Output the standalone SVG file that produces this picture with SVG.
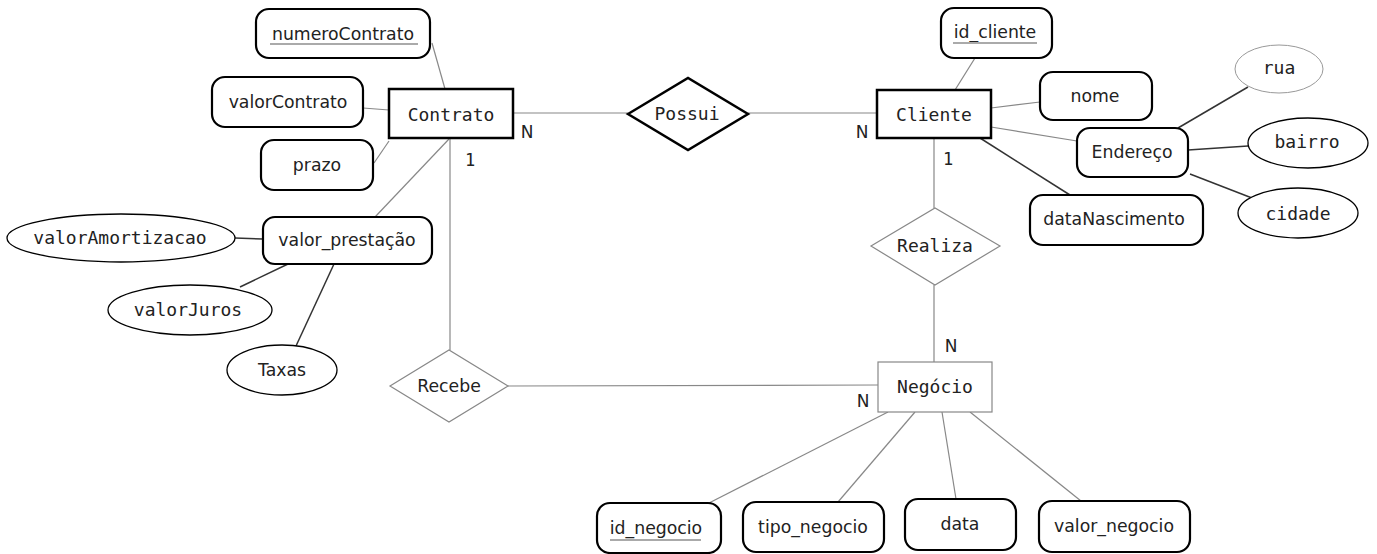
<svg xmlns="http://www.w3.org/2000/svg" width="1377" height="554" viewBox="0 0 1377 554">
<style>
.bg{fill:#fff}
.ent{fill:#fff;stroke:#000;stroke-width:2.5}
.weak{fill:#fff;stroke:#888;stroke-width:1.2}
.attr{fill:#fff;stroke:#000;stroke-width:2.2}
.ell{fill:#fff;stroke:#000;stroke-width:1.3}
.ellg{fill:#fff;stroke:#999;stroke-width:1}
.ln{stroke:#888;stroke-width:1.2;fill:none}
.lnd{stroke:#333;stroke-width:1.5;fill:none}
.mono{font-family:"DejaVu Sans Mono","Liberation Mono",monospace;font-size:18px;fill:#222;text-anchor:middle}
.sans{font-family:"DejaVu Sans","Liberation Sans",sans-serif;font-size:17.3px;fill:#222;text-anchor:middle}
.card{font-family:"DejaVu Sans","Liberation Sans",sans-serif;font-size:17px;fill:#222;text-anchor:middle}
.ul{stroke:#aaa;stroke-width:2}
</style>
<rect class="bg" x="0" y="0" width="1377" height="554"/>
<g id="connectors">
<line class="ln" x1="432" y1="43" x2="445" y2="89"/>
<line class="ln" x1="363" y1="108" x2="389" y2="110"/>
<line class="ln" x1="374" y1="163" x2="389" y2="141"/>
<line class="ln" x1="449" y1="139" x2="375" y2="217"/>
<line class="ln" x1="450" y1="139" x2="450" y2="350"/>
<line class="ln" x1="513" y1="113" x2="628" y2="113"/>
<line class="ln" x1="748" y1="113" x2="877" y2="113"/>
<line class="ln" x1="975" y1="58" x2="955" y2="90"/>
<line class="ln" x1="991" y1="108" x2="1040" y2="102"/>
<line class="ln" x1="991" y1="127" x2="1077" y2="141"/>
<line class="lnd" x1="980" y1="138" x2="1070" y2="195"/>
<line class="ln" x1="934" y1="138" x2="934" y2="208"/>
<line class="ln" x1="934" y1="285" x2="934" y2="362"/>
<line class="ln" x1="508" y1="386" x2="878" y2="385"/>
<line class="lnd" x1="1178" y1="128" x2="1248" y2="87"/>
<line class="lnd" x1="1188" y1="150" x2="1248" y2="146"/>
<line class="lnd" x1="1190" y1="174" x2="1252" y2="198"/>
<line class="lnd" x1="235" y1="238" x2="263" y2="239"/>
<line class="lnd" x1="240" y1="287" x2="288" y2="264"/>
<line class="lnd" x1="296" y1="346" x2="334" y2="264"/>
<line class="ln" x1="888" y1="412" x2="709" y2="503"/>
<line class="ln" x1="915" y1="412" x2="838" y2="502"/>
<line class="ln" x1="942" y1="412" x2="956" y2="499"/>
<line class="ln" x1="970" y1="412" x2="1081" y2="501"/>
<text class="card" x="527" y="138">N</text>
<text class="card" x="862" y="138">N</text>
<text class="mono" x="470" y="166" style="font-size:17px">1</text>
<text class="mono" x="948" y="165" style="font-size:17px">1</text>
<text class="card" x="951" y="352">N</text>
<text class="card" x="863" y="407">N</text>
</g>
<g id="contrato"><rect class="ent" x="389" y="89" width="124" height="49"/><text class="mono" x="451" y="121">Contrato</text></g>
<g id="possui"><polygon class="ent" points="628,114 688,78 748,114 688,150"/><text class="mono" x="687" y="120">Possui</text></g>
<g id="cliente"><rect class="ent" x="877" y="90" width="114" height="48"/><text class="mono" x="934" y="121">Cliente</text></g>
<g id="negocio"><rect class="weak" x="878" y="362" width="114" height="50"/><text class="mono" x="935" y="393">Negócio</text></g>
<g id="realiza"><polygon class="weak" points="871,246 935,208 1000,246 935,285"/><text class="mono" x="935" y="252">Realiza</text></g>
<g id="recebe"><polygon class="weak" points="390,386 449,350 508,386 449,422"/><text class="sans" x="449" y="392">Recebe</text></g>
<g id="numeroContrato"><rect class="attr" x="256" y="9" width="174" height="49" rx="13"/><text class="sans" x="343" y="40">numeroContrato</text><line class="ul" x1="270" y1="44" x2="418" y2="44"/></g>
<g id="valorContrato"><rect class="attr" x="212" y="77" width="151" height="50" rx="13"/><text class="sans" x="288" y="108">valorContrato</text></g>
<g id="prazo"><rect class="attr" x="261" y="140" width="112" height="50" rx="13"/><text class="sans" x="317" y="171">prazo</text></g>
<g id="valor_prestacao"><rect class="attr" x="263" y="217" width="169" height="47" rx="12"/><text class="sans" x="347" y="246">valor_prestação</text></g>
<g id="valorAmortizacao"><ellipse class="ell" cx="121" cy="238" rx="114" ry="24"/><text class="mono" x="120" y="244">valorAmortizacao</text></g>
<g id="valorJuros"><ellipse class="ell" cx="190" cy="310" rx="82" ry="25"/><text class="mono" x="188" y="316">valorJuros</text></g>
<g id="taxas"><ellipse class="ell" cx="282" cy="370" rx="55" ry="25"/><text class="sans" x="282" y="376">Taxas</text></g>
<g id="id_cliente"><rect class="attr" x="941" y="8" width="111" height="50" rx="13"/><text class="sans" x="995" y="38">id_cliente</text><line class="ul" x1="953" y1="43" x2="1037" y2="43"/></g>
<g id="nome"><rect class="attr" x="1040" y="72" width="112" height="48" rx="13"/><text class="sans" x="1095" y="102">nome</text></g>
<g id="endereco"><rect class="attr" x="1077" y="128" width="111" height="49" rx="13"/><text class="sans" x="1132" y="158">Endereço</text></g>
<g id="dataNascimento"><rect class="attr" x="1030" y="195" width="173" height="50" rx="13"/><text class="sans" x="1114" y="225">dataNascimento</text></g>
<g id="rua"><ellipse class="ellg" cx="1279" cy="69" rx="44" ry="24"/><text class="mono" x="1279" y="74">rua</text></g>
<g id="bairro"><ellipse class="ell" cx="1308" cy="143" rx="60" ry="25"/><text class="mono" x="1307" y="148">bairro</text></g>
<g id="cidade"><ellipse class="ell" cx="1298" cy="213" rx="60" ry="25"/><text class="mono" x="1298" y="220">cidade</text></g>
<g id="id_negocio"><rect class="attr" x="597" y="503" width="124" height="50" rx="13"/><text class="sans" x="656" y="534">id_negocio</text><line class="ul" x1="610" y1="540" x2="701" y2="540"/></g>
<g id="tipo_negocio"><rect class="attr" x="743" y="502" width="141" height="50" rx="13"/><text class="sans" x="813" y="533">tipo_negocio</text></g>
<g id="data"><rect class="attr" x="905" y="499" width="111" height="51" rx="13"/><text class="sans" x="960" y="530">data</text></g>
<g id="valor_negocio"><rect class="attr" x="1039" y="501" width="151" height="51" rx="13"/><text class="sans" x="1114" y="532">valor_negocio</text></g>
</svg>
